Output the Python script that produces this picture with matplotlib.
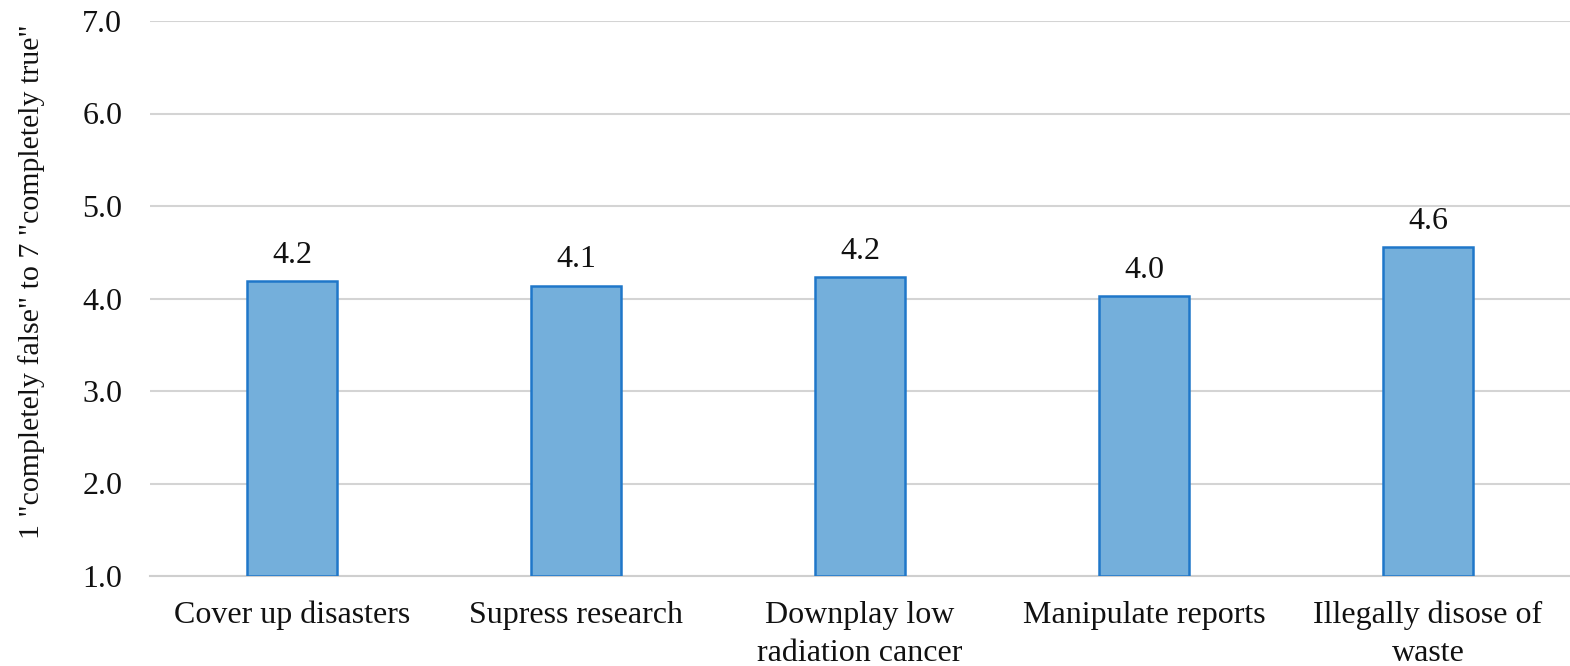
import numpy as np
import matplotlib
matplotlib.use('Agg')
import matplotlib.pyplot as plt

# Mean agreement per statement (1-7 scale)
categories = ['Cover up disasters', 'Supress research', 'Downplay low\nradiation cancer',
              'Manipulate reports', 'Illegally disose of\nwaste']
means = [4.19, 4.14, 4.23, 4.03, 4.56]
y_ticks = [1.0, 2.0, 3.0, 4.0, 5.0, 6.0, 7.0]

plt.rcParams['font.family'] = ['Liberation Serif', 'DejaVu Serif']
fs = 23
txt_color = '#111111'

fig = plt.figure(figsize=(15.7, 6.66), dpi=100)
ax = fig.add_axes([150 / 1570, 1 - 576 / 666, 1 - 150 / 1570, (576 - 21) / 666])

x = np.arange(len(categories))
bars = ax.bar(x, np.array(means) - 1.0, bottom=1.0, width=0.32,
              color='#74afdb', edgecolor='#1f77c9', linewidth=1.8, zorder=3)

# Value labels above each bar
for xi, v in zip(x, means):
    ax.text(xi, v + 0.12, f'{v:.1f}', ha='center', va='bottom', fontsize=fs, color=txt_color)

ax.set_xlim(-0.5, len(categories) - 0.5)
ax.set_ylim(1.0, 7.0)
ax.set_yticks(y_ticks)
ax.set_yticklabels([f'{t:.1f}' for t in y_ticks])
ax.set_xticks(x)
ax.set_xticklabels(categories, linespacing=1.4)
ax.tick_params(axis='both', length=0, labelsize=fs, colors=txt_color)
ax.tick_params(axis='x', pad=18)
ax.tick_params(axis='y', pad=20)

ax.grid(axis='y', color='#d4d4d4', linewidth=1.5, zorder=0)
for side in ['top', 'right', 'left']:
    ax.spines[side].set_visible(False)
ax.spines['bottom'].set_color('#cfcfcf')
ax.spines['bottom'].set_linewidth(1.5)

ax.set_ylabel('1 "completely false" to 7 "completely true"', fontsize=21.5, color=txt_color)
ax.yaxis.set_label_coords(-0.074, 0.53)

fig.savefig('out.png', dpi=100)
